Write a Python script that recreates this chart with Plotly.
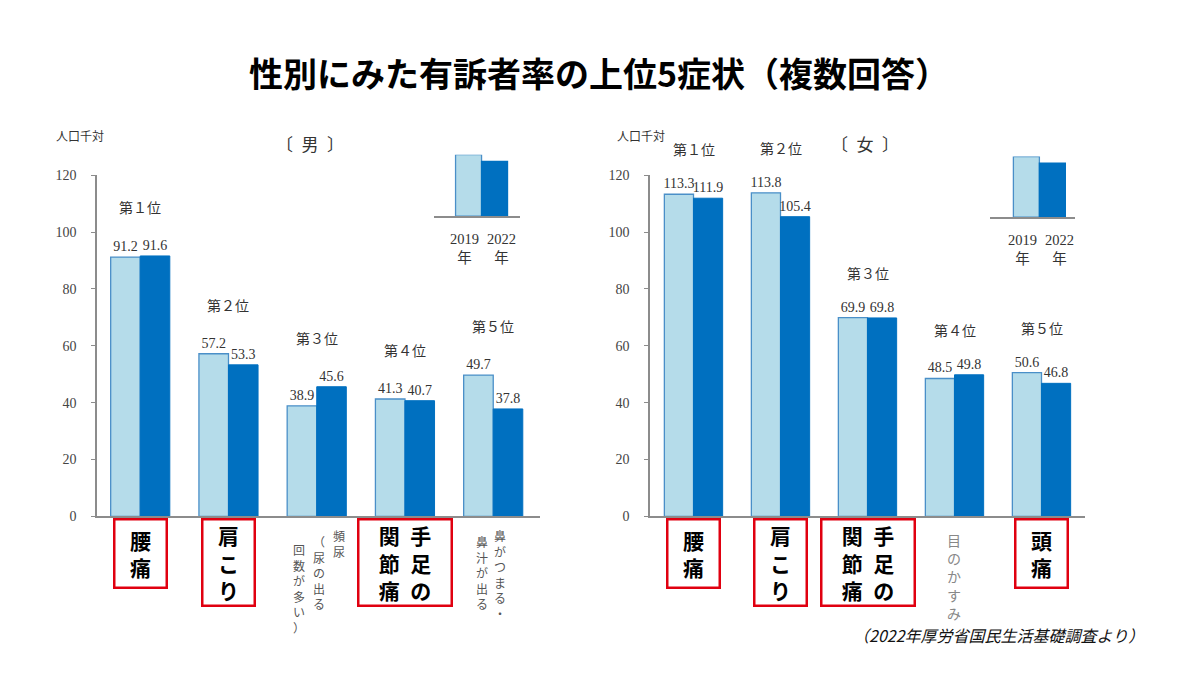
import plotly.graph_objects as go

# ---------------- data ----------------
CATEGORIES_M = ["腰痛", "肩こり", "頻尿（尿の出る回数が多い）", "手足の関節痛", "鼻がつまる・鼻汁が出る"]
MALE_2019 = [91.2, 57.2, 38.9, 41.3, 49.7]
MALE_2022 = [91.6, 53.3, 45.6, 40.7, 37.8]

CATEGORIES_F = ["腰痛", "肩こり", "手足の関節痛", "目のかすみ", "頭痛"]
FEMALE_2019 = [113.3, 113.8, 69.9, 48.5, 50.6]
FEMALE_2022 = [111.9, 105.4, 69.8, 49.8, 46.8]

RANKS = ["第１位", "第２位", "第３位", "第４位", "第５位"]
YEARS = ["2019", "2022"]
YEAR_LABELS = ["2019<br>年", "2022<br>年"]
LEGEND_HEIGHTS = [100, 89]
Y_TICKS = [0, 20, 40, 60, 80, 100, 120]

TITLE = "性別にみた有訴者率の上位5症状（複数回答）"
UNIT = "人口千対"
PANEL_M = "〔\u2002男\u2002〕"
PANEL_F = "〔\u2002女\u2002〕"
SOURCE = "（2022年厚労省国民生活基礎調査より）"

# ---------------- style ----------------
W, H = 1200, 675
LIGHT = "#b5dcea"
LIGHT_LINE = "#4a8fc8"
DARK = "#0070c0"
AXIS = "#8c8c8c"
RED = "#e00010"
SERIF = "Liberation Serif, Noto Sans CJK JP"
SANS = "Noto Sans CJK JP"


def px(xp):
    return xp / W


def py(yp):
    return 1 - yp / H


fig = go.Figure()

panels = [
    dict(cats=CATEGORIES_M, v19=MALE_2019, v22=MALE_2022, xa="x", ya="y",
         xdom=[px(97), px(540)], xrange=[-0.49, 4.53], rank_shift=48),
    dict(cats=CATEGORIES_F, v19=FEMALE_2019, v22=FEMALE_2022, xa="x2", ya="y2",
         xdom=[px(650), px(1085)], xrange=[-0.5, 4.5], rank_shift=44),
]

for p in panels:
    fig.add_trace(go.Bar(
        x=p["cats"], y=p["v19"], xaxis=p["xa"], yaxis=p["ya"],
        marker=dict(color=LIGHT, line=dict(color=LIGHT_LINE, width=1.3)),
        texttemplate="%{y:.1f}", textposition="outside", constraintext="none",
        textfont=dict(family=SERIF, size=14, color="#333"), cliponaxis=False,
        hoverinfo="skip", showlegend=False))
    fig.add_trace(go.Bar(
        x=p["cats"], y=p["v22"], xaxis=p["xa"], yaxis=p["ya"],
        marker=dict(color=DARK, line=dict(color=DARK, width=1)),
        texttemplate="%{y:.1f}", textposition="outside", constraintext="none",
        textfont=dict(family=SERIF, size=14, color="#333"), cliponaxis=False,
        hoverinfo="skip", showlegend=False))

# legend insets drawn as tiny bar charts
legend_axes = [("x3", "y3"), ("x4", "y4")]
for xa, ya in legend_axes:
    fig.add_trace(go.Bar(
        x=YEARS, y=LEGEND_HEIGHTS, xaxis=xa, yaxis=ya, width=1,
        marker=dict(color=[LIGHT, DARK], line=dict(color=[LIGHT_LINE, DARK], width=1.3)),
        hoverinfo="skip", showlegend=False))

ydom = [py(521), py(172)]
common_x = dict(type="category", showline=True, linecolor=AXIS, linewidth=1.5,
                showticklabels=False, ticks="", showgrid=False, zeroline=False, fixedrange=True)
common_y = dict(range=[0, 120], tickvals=Y_TICKS, showline=True, linecolor=AXIS, linewidth=1.5,
                ticks="outside", ticklen=4, tickcolor=AXIS, tickwidth=1.2,
                tickfont=dict(family=SERIF, size=14, color="#444"), ticklabelstandoff=12,
                showgrid=False, zeroline=False, domain=ydom, fixedrange=True)

legend_x = dict(type="category", showline=True, linecolor=AXIS, linewidth=1.5, ticks="",
                showticklabels=False, showgrid=False, zeroline=False, fixedrange=True)
legend_y = dict(range=[0, 100], visible=False, fixedrange=True)

fig.update_layout(
    width=W, height=H, margin=dict(l=0, r=0, t=0, b=0),
    paper_bgcolor="white", plot_bgcolor="rgba(0,0,0,0)",
    barmode="group", bargap=0.33, bargroupgap=0,
    xaxis=dict(common_x, domain=panels[0]["xdom"], range=panels[0]["xrange"], anchor="y"),
    yaxis=dict(common_y, anchor="x"),
    xaxis2=dict(common_x, domain=panels[1]["xdom"], range=panels[1]["xrange"], anchor="y2"),
    yaxis2=dict(common_y, anchor="x2"),
    xaxis3=dict(legend_x, domain=[px(434), px(520)], range=[-1.33, 1.98], anchor="y3"),
    yaxis3=dict(legend_y, domain=[py(214), py(151)], anchor="x3"),
    xaxis4=dict(legend_x, domain=[px(990), px(1075)], range=[-1.40, 1.87], anchor="y4"),
    yaxis4=dict(legend_y, domain=[py(215), py(153)], anchor="x4"),
    showlegend=False,
)

ann = []

# title and texts
ann.append(dict(text=TITLE, x=px(599), y=py(67), xref="paper", yref="paper", showarrow=False,
                xanchor="center", yanchor="middle",
                font=dict(family=SANS, size=34, color="#000", weight=700)))
for cx in (80, 641):
    ann.append(dict(text=UNIT, x=px(cx), y=py(131), xref="paper", yref="paper", showarrow=False,
                    xanchor="center", yanchor="middle", font=dict(family=SANS, size=12, color="#333")))
ann.append(dict(text=PANEL_M, x=px(310), y=py(140), xref="paper", yref="paper", showarrow=False,
                xanchor="center", yanchor="middle", font=dict(family=SANS, size=17, color="#333")))
ann.append(dict(text=PANEL_F, x=px(865), y=py(140), xref="paper", yref="paper", showarrow=False,
                xanchor="center", yanchor="middle", font=dict(family=SANS, size=17, color="#333")))
ann.append(dict(text=SOURCE, x=px(1146), y=py(642), xref="paper", yref="paper", showarrow=False,
                xanchor="right", yanchor="middle",
                font=dict(family=SANS, size=16, color="#111", style="italic")))

# legend year labels (spread slightly wider than the bars, as in the original)
for xa, ya in legend_axes:
    for i, lbl in enumerate(YEAR_LABELS):
        ann.append(dict(text=lbl, x=i, y=0, xref=xa, yref=ya, showarrow=False,
                        xanchor="center", yanchor="top", yshift=-13,
                        xshift=(-4 if i == 0 else 7),
                        font=dict(family=SERIF, size=14.5, color="#333")))

# rank labels
for p in panels:
    for i, r in enumerate(RANKS):
        top = max(p["v19"][i], p["v22"][i])
        ann.append(dict(text=r, x=i, y=top, xref=p["xa"], yref=p["ya"], showarrow=False,
                        xanchor="center", yanchor="middle", yshift=p["rank_shift"],
                        font=dict(family=SERIF, size=14, color="#333")))


def stack(cols):
    """cols: right-to-left list of equal length strings -> rows of horizontal text"""
    n = max(len(c) for c in cols)
    rows = []
    for k in range(n):
        rows.append("\u2002".join(c[k] for c in reversed(cols)))
    return "<br>".join(rows)


# boxed vertical labels: (panel, index, columns right-to-left)
BOXED = [
    (0, 0, ["腰痛"]), (0, 1, ["肩こり"]), (0, 3, ["手足の", "関節痛"]),
    (1, 0, ["腰痛"]), (1, 1, ["肩こり"]), (1, 2, ["手足の", "関節痛"]), (1, 4, ["頭痛"]),
]
for pi, idx, cols in BOXED:
    p = panels[pi]
    n = max(len(c) for c in cols)
    w = 46 if len(cols) == 1 else 87
    h = 62 if n == 2 else 80
    ann.append(dict(text=stack(cols), x=idx, y=py(523), xref=p["xa"], yref="paper",
                    showarrow=False, xanchor="center", yanchor="top",
                    width=w, height=h, bordercolor=RED, borderwidth=2.5, borderpad=2,
                    bgcolor="white", align="center", valign="middle",
                    font=dict(family=SANS, size=21, color="#000", weight=700)))

# plain vertical labels: (panel, index, [(column text, xshift, top px)])
PLAIN = [
    (0, 2, [("頻尿", 22, 530), ("（尿の出る", 2, 536), ("回数が多い）", -18, 544)], "#555", 12),
    (0, 4, [("鼻がつまる・", 7, 530), ("鼻汁が出る", -11, 536)], "#555", 12),
    (1, 3, [("目のかすみ", -1, 533)], "#888", 14),
]
for pi, idx, cols, color, size in PLAIN:
    p = panels[pi]
    for txt, xs, top in cols:
        ann.append(dict(text="<br>".join(txt), x=idx, y=py(top), xref=p["xa"], yref="paper",
                        showarrow=False, xanchor="center", yanchor="top", xshift=xs,
                        align="center", font=dict(family=SANS, size=size, color=color)))

fig.update_layout(annotations=ann)
fig.write_html("out.html")
